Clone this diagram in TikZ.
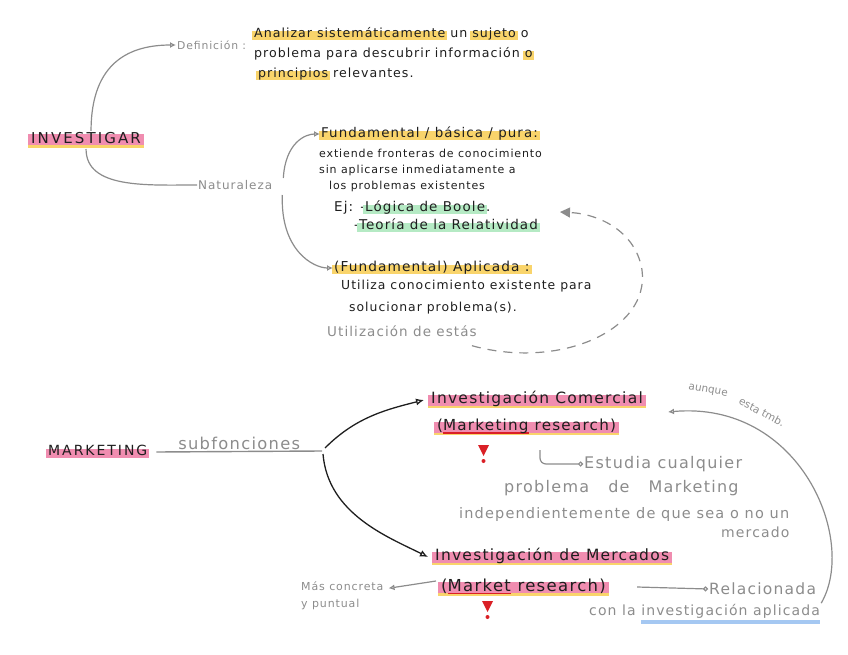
\documentclass[tikz,border=0pt]{standalone}
\usepackage{fontspec}
\setmainfont[LetterSpace=8]{DejaVu Sans}
\newfontfamily\capsfont[LetterSpace=14]{DejaVu Sans}
\newfontfamily\plainfont{DejaVu Sans}
\usetikzlibrary{arrows.meta}

\definecolor{hly}{HTML}{F9D46B}
\definecolor{hlp}{HTML}{F08DB0}
\definecolor{hlg}{HTML}{B5EAC4}
\definecolor{hlb}{HTML}{A5C8F2}
\definecolor{inkgray}{HTML}{8C8C8C}
\definecolor{ink}{HTML}{1E1E1E}
\definecolor{alert}{HTML}{DA2026}

% marker strokes behind / under text
\newcommand{\strokeunder}[4]{\setbox0=\hbox{#4}\rlap{\color{#1}\rule[#2]{\wd0}{#3}}#4}
\newcommand{\hilite}[2]{\setbox0=\hbox{#2}\rlap{\kern-2pt\color{#1}\rule[-2.5pt]{\dimexpr\wd0+4pt}{9pt}}#2}
\newcommand{\marktwo}[1]{\setbox0=\hbox{#1}\rlap{\kern-3pt\color{hly}\rule[-4.5pt]{\dimexpr\wd0+6pt}{6pt}}\rlap{\kern-3pt\color{hlp}\rule[-2pt]{\dimexpr\wd0+6pt}{11pt}}#1}

\begin{document}
\begin{tikzpicture}[x=1pt,y=-1pt,
  hand/.style={font=\fontsize{11}{16}\selectfont, text=ink, anchor=west, inner sep=1pt, align=left},
  note/.style={hand, text=inkgray},
  big/.style={font=\fontsize{15.5}{18}\selectfont},
  link/.style={inkgray, line width=1.2pt, -{Latex[open,length=6pt,width=6pt]}},
  dotlink/.style={inkgray, line width=1.2pt, -{Circle[open,length=5pt]}},
  branch/.style={ink, line width=1.3pt, -{Latex[open,length=8pt,width=7pt]}}]
\useasboundingbox (0,0) rectangle (848,655);

% investigar
\node[hand, font=\capsfont\fontsize{15}{16}\selectfont] (inv) at (30,140) {\marktwo{INVESTIGAR}};
\node[note, font=\fontsize{10.8}{14}\selectfont] (def) at (176,45) {Definición :};
\node[hand, anchor=north west, font=\fontsize{12.6}{20}\selectfont] (defn) at (253,26)
  {\hilite{hly}{Analizar sistemáticamente} un \hilite{hly}{sujeto} o\\
   problema para descubrir información \hilite{hly}{o}\\
   \hspace*{4pt}\hilite{hly}{principios} relevantes.};
\node[note, font=\fontsize{12}{14}\selectfont] (nat) at (197,185) {Naturaleza};
\node[hand, font=\fontsize{13.4}{16}\selectfont] (fund) at (320,134) {\hilite{hly}{Fundamental / básica / pura:}};
\node[hand, anchor=north west] (fundtxt) at (318,148)
  {extiende fronteras de conocimiento\\
   sin aplicarse inmediatamente a\\
   \hspace*{10pt}los problemas existentes};
\node[hand, anchor=north west, font=\fontsize{13.5}{18}\selectfont] (ej) at (333,200)
  {Ej: -\hilite{hlg}{Lógica de Boole}.\\
   \hspace*{20pt}-\hilite{hlg}{Teoría de la Relatividad}};
\node[hand, font=\fontsize{13.7}{16}\selectfont] (apl) at (333,268) {\hilite{hly}{(Fundamental) Aplicada :}};
\node[hand, anchor=north west, font=\fontsize{12.4}{22}\selectfont] (apltxt) at (340,279)
  {Utiliza conocimiento existente para\\
   \hspace*{8pt}solucionar problema(s).};
\node[note, font=\fontsize{13.5}{16}\selectfont] (util) at (326,331) {Utilización de estás};
\coordinate (back) at (560,212);

\draw[link] ([xshift=5pt]inv.north) .. controls +(0,-70) and +(-45,0) .. (def.west);
\draw[inkgray, line width=1.2pt] (inv.south) .. controls +(0,40) and +(-50,0) .. (nat.west);
\draw[link] ([xshift=10pt,yshift=7pt]nat.east) .. controls +(2,-35) and +(-15,0) .. (fund.west);
\draw[link] ([xshift=9pt,yshift=-10pt]nat.east) .. controls +(-2,55) and +(-20,0) .. (apl.west);
\draw[inkgray, line width=1.2pt, dash pattern=on 9pt off 7pt, -{Triangle[length=10pt,width=10pt]}]
  ([xshift=-6pt,yshift=-8pt]util.south east) .. controls (560,370) and (650,330) .. (642,270)
  .. controls (636,232) and (600,214) .. (back);

% marketing
\node[hand, font=\capsfont\fontsize{14}{16}\selectfont] (mkt) at (47,452) {\hilite{hlp}{MARKETING}};
\coordinate (fork) at (322,451);
\draw[inkgray, line width=1.4pt] ([xshift=8pt]mkt.east) -- node[note, anchor=south, font=\fontsize{16.3}{18}\selectfont] (subf) {subfonciones} (fork);

\node[hand, big] (ic) at (430,400) {\marktwo{Investigación Comercial}};
\node[hand, big, font=\fontsize{15.2}{18}\selectfont] (icsub) at (436,427) {\marktwo{(\strokeunder{alert}{-3pt}{1.2pt}{Marketing} research)}};
\node[hand, big] (im) at (434,557) {\marktwo{Investigación de Mercados}};
\node[hand, big, font=\fontsize{16.5}{18}\selectfont] (imsub) at (440,587) {\marktwo{(\strokeunder{alert}{-3pt}{1.2pt}{Market} research)}};

\draw[branch] ([xshift=3pt,yshift=3pt]fork) .. controls +(30,-30) and +(-40,10) .. ([xshift=-6pt]ic.west);
\draw[branch] ([xshift=1pt,yshift=-3pt]fork) .. controls +(5,60) and +(-40,-20) .. ([xshift=-6pt]im.west);

% exclamation marks
\fill[alert] (478,445) -- (489,445) -- (483.5,456) -- cycle;
\fill[alert] (483.5,461) circle[radius=2pt];
\fill[alert] (482,601) -- (493,601) -- (487.5,612) -- cycle;
\fill[alert] (487.5,617) circle[radius=2pt];

\node[note, font=\fontsize{16}{18}\selectfont] (est1) at (583,464) {Estudia cualquier};
\node[note, font=\fontsize{16}{18}\selectfont] (est2) at (503,488) {problema \ \ de \ \ Marketing};
\node[note, font=\fontsize{14.5}{18}\selectfont] (est3) at (458,514) {independientemente de que sea o no un};
\node[note, font=\fontsize{14}{18}\selectfont] (est4) at (720,532) {mercado};
\draw[dotlink, rounded corners=6pt] (540,450) |- (est1.west);

\node[note, anchor=north west, font=\fontsize{11}{17}\selectfont] (mas) at (300,580) {Más concreta\\y puntual};
\draw[link] ([xshift=-4pt,yshift=6pt]imsub.west) -- ([xshift=4pt,yshift=7pt]mas.east);

\node[note, font=\fontsize{15.5}{16}\selectfont] (rel) at (708,589) {Relacionada};
\node[note, font=\fontsize{14}{16}\selectfont] (rel2) at (588,614)
  {con la \strokeunder{hlb}{-8pt}{3.5pt}{investigación aplicada}};
\draw[dotlink] ([xshift=30pt]imsub.east) -- (rel.west);

\coordinate (tmb) at (668,412);
\draw[link] (rel2.north east) .. controls (858,540) and (800,400) .. (tmb);
\node[note, anchor=center, font=\plainfont\fontsize{10.5}{11}\selectfont, rotate=-10] (aunque) at (708,391) {aunque};
\node[note, anchor=center, font=\plainfont\fontsize{10.5}{11}\selectfont, rotate=-28] (tmbtxt) at (762,412) {esta tmb.};
\end{tikzpicture}
\end{document}
